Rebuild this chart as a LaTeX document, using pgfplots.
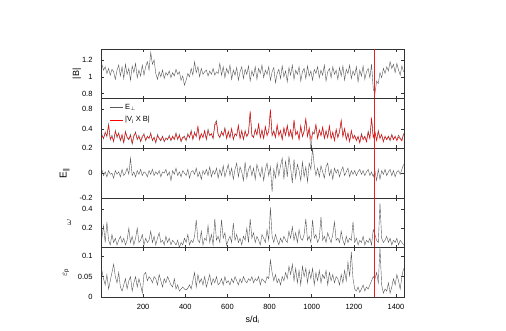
\documentclass[border=0pt]{standalone}
\usepackage{fontspec}
\setmainfont{Liberation Sans}
\usepackage{pgfplots}
\usepackage{pgfplotstable}
\pgfplotsset{compat=1.18}

% x = s/d_i; B = |B|; Eperp, VxB; Epar; w = omega; eps = epsilon_p
\pgfplotstableread{
x B Eperp VxB Epar w eps
4 1.15 0.33 0.31 0.03 0.14 0.065
12 1.08 0.28 0.29 -0.02 0.22 0.045
20 1.12 0.36 0.34 0.01 0.12 0.030
28 1.04 0.30 0.32 -0.03 0.25 0.055
36 1.10 0.48 0.45 0.02 0.13 0.020
44 1.02 0.27 0.28 -0.01 0.11 0.040
52 1.09 0.32 0.30 0.00 0.16 0.060
60 1.06 0.25 0.26 -0.04 0.12 0.080
68 0.97 0.38 0.36 0.02 0.14 0.050
76 1.08 0.29 0.31 -0.01 0.11 0.035
84 1.14 0.35 0.33 0.01 0.13 0.060
92 1.01 0.26 0.27 -0.03 0.15 0.025
100 1.12 0.31 0.33 0.03 0.12 0.015
108 0.98 0.24 0.25 -0.02 0.14 0.030
116 1.15 0.37 0.35 0.00 0.11 0.045
124 1.03 0.29 0.30 0.04 0.13 0.020
132 1.10 0.27 0.28 -0.01 0.20 0.040
140 0.96 0.33 0.31 0.12 0.12 0.050
148 1.13 0.23 0.24 -0.02 0.15 0.015
156 1.05 0.30 0.32 0.01 0.11 0.035
164 1.16 0.36 0.34 -0.03 0.14 0.050
172 0.99 0.27 0.28 0.02 0.20 0.025
180 1.08 0.32 0.30 -0.01 0.12 0.045
188 1.01 0.25 0.26 0.03 0.13 0.030
196 1.14 0.29 0.31 -0.02 0.16 0.010
204 1.02 0.34 0.32 0.01 0.11 0.055
212 1.12 0.26 0.27 0.00 0.14 0.060
220 1.18 0.31 0.30 -0.03 0.12 0.040
228 1.08 0.28 0.29 0.02 0.13 0.050
236 1.29 0.35 0.33 -0.01 0.18 0.045
244 1.15 0.26 0.27 0.03 0.12 0.035
252 1.20 0.30 0.29 -0.02 0.15 0.050
260 1.04 0.24 0.25 0.01 0.11 0.045
268 0.97 0.33 0.31 -0.01 0.14 0.030
276 1.06 0.28 0.29 0.02 0.17 0.055
284 1.00 0.26 0.27 -0.03 0.12 0.040
292 1.08 0.31 0.30 0.01 0.13 0.025
300 0.98 0.25 0.26 0.00 0.11 0.045
308 1.05 0.29 0.28 0.03 0.15 0.035
316 1.02 0.27 0.28 -0.02 0.12 0.050
324 1.07 0.32 0.30 0.01 0.14 0.040
332 0.99 0.26 0.27 -0.06 0.11 0.030
340 1.05 0.30 0.31 0.02 0.13 0.025
348 1.01 0.28 0.27 -0.01 0.12 0.045
356 1.09 0.35 0.33 0.04 0.11 0.020
364 1.03 0.27 0.28 -0.02 0.13 0.030
372 1.06 0.33 0.31 0.01 0.10 0.015
380 0.96 0.25 0.26 -0.03 0.12 0.020
388 1.01 0.29 0.30 0.02 0.11 0.025
396 0.90 0.31 0.29 0.00 0.14 0.020
404 0.96 0.26 0.27 -0.02 0.12 0.018
412 1.04 0.34 0.32 0.03 0.16 0.022
420 1.00 0.29 0.30 -0.04 0.11 0.030
428 1.10 0.38 0.36 0.01 0.13 0.020
436 1.02 0.27 0.28 0.02 0.12 0.040
444 1.18 0.36 0.34 -0.01 0.15 0.060
452 1.05 0.30 0.31 0.04 0.27 0.025
460 1.12 0.42 0.44 -0.03 0.13 0.055
468 1.00 0.28 0.27 0.01 0.12 0.035
476 1.10 0.33 0.34 -0.05 0.18 0.045
484 1.03 0.30 0.29 0.02 0.11 0.030
492 1.06 0.36 0.38 -0.01 0.14 0.050
500 1.08 0.27 0.28 0.03 0.13 0.025
508 1.01 0.40 0.37 -0.02 0.22 0.040
516 1.07 0.31 0.32 0.05 0.12 0.055
524 1.03 0.34 0.33 -0.03 0.16 0.030
532 1.10 0.28 0.29 0.02 0.11 0.045
540 1.02 0.48 0.45 -0.01 0.28 0.035
548 1.06 0.54 0.50 0.04 0.13 0.050
556 1.04 0.33 0.32 -0.04 0.15 0.030
564 1.16 0.29 0.30 0.03 0.12 0.035
572 1.02 0.37 0.35 -0.02 0.27 0.045
580 1.12 0.31 0.32 0.06 0.14 0.030
588 0.99 0.42 0.40 -0.03 0.17 0.050
596 1.10 0.28 0.29 0.02 0.11 0.035
604 1.04 0.35 0.37 0.07 0.13 0.040
612 1.14 0.30 0.29 -0.02 0.15 0.030
620 0.97 0.39 0.41 0.04 0.12 0.045
628 1.08 0.27 0.28 -0.05 0.24 0.035
636 1.02 0.34 0.33 0.03 0.13 0.050
644 1.11 0.31 0.32 0.08 0.16 0.040
652 0.96 0.44 0.46 -0.03 0.12 0.030
660 1.06 0.29 0.28 0.05 0.14 0.045
668 1.12 0.36 0.38 0.01 0.11 0.035
676 0.98 0.27 0.28 -0.06 0.15 0.050
684 1.09 0.38 0.36 0.09 0.13 0.040
692 1.03 0.30 0.31 -0.04 0.20 0.035
700 1.13 0.34 0.35 0.03 0.12 0.045
708 0.95 0.72 0.76 0.06 0.28 0.040
716 1.07 0.33 0.31 -0.02 0.14 0.050
724 1.01 0.29 0.30 0.04 0.17 0.035
732 1.12 0.40 0.38 -0.05 0.12 0.045
740 0.97 0.32 0.33 0.07 0.15 0.040
748 1.10 0.46 0.48 0.02 0.13 0.050
756 1.04 0.30 0.29 -0.03 0.11 0.030
764 1.14 0.37 0.39 0.05 0.16 0.045
772 0.99 0.28 0.29 -0.06 0.14 0.040
780 1.08 0.42 0.44 0.03 0.12 0.035
788 1.03 0.33 0.31 0.08 0.19 0.050
796 1.12 0.36 0.37 -0.02 0.13 0.045
804 0.96 0.78 0.80 0.05 0.42 0.090
812 1.06 0.31 0.32 -0.15 0.15 0.060
820 1.11 0.38 0.36 0.03 0.12 0.040
828 0.93 0.29 0.30 -0.04 0.16 0.055
836 1.04 0.44 0.47 0.08 0.13 0.035
844 1.09 0.33 0.31 -0.02 0.11 0.045
852 0.98 0.36 0.38 0.06 0.14 0.030
860 1.13 0.28 0.27 0.12 0.12 0.050
868 1.00 0.40 0.42 -0.05 0.15 0.040
876 1.07 0.31 0.32 0.10 0.13 0.060
884 0.94 0.46 0.44 -0.03 0.12 0.045
892 1.11 0.30 0.31 0.13 0.18 0.075
900 1.02 0.37 0.39 0.04 0.14 0.055
908 1.14 0.29 0.28 -0.08 0.21 0.080
916 0.97 0.52 0.55 0.11 0.13 0.040
924 1.08 0.33 0.32 -0.04 0.17 0.070
932 1.03 0.35 0.37 0.07 0.12 0.035
940 1.12 0.28 0.27 0.02 0.19 0.065
948 0.95 0.43 0.45 -0.06 0.14 0.030
956 1.06 0.30 0.31 0.09 0.13 0.075
964 1.10 0.38 0.36 -0.03 0.16 0.050
972 0.98 0.55 0.58 0.05 0.28 0.070
980 1.13 0.31 0.30 -0.07 0.13 0.035
988 1.01 0.40 0.42 0.08 0.15 0.065
996 1.07 0.18 0.27 0.03 0.12 0.045
1004 0.96 0.36 0.34 0.20 0.27 0.070
1012 1.09 0.33 0.35 0.06 0.14 0.030
1020 1.04 0.45 0.47 -0.02 0.16 0.060
1028 1.12 0.29 0.28 0.04 0.12 0.040
1036 0.99 0.37 0.39 -0.03 0.14 0.065
1044 1.08 0.32 0.31 0.06 0.30 0.035
1052 1.02 0.41 0.43 0.01 0.13 0.055
1060 1.14 0.28 0.29 -0.04 0.15 0.045
1068 0.95 0.36 0.38 0.05 0.12 0.065
1076 1.06 0.30 0.29 0.08 0.17 0.030
1084 1.10 0.43 0.45 -0.02 0.14 0.060
1092 0.99 0.29 0.28 0.03 0.12 0.040
1100 1.12 0.34 0.36 -0.05 0.16 0.055
1108 1.03 0.27 0.26 0.04 0.25 0.035
1116 1.08 0.38 0.40 0.00 0.13 0.050
1124 0.97 0.30 0.29 0.03 0.14 0.045
1132 1.11 0.35 0.37 -0.03 0.12 0.030
1140 1.01 0.52 0.55 0.02 0.18 0.055
1148 1.13 0.31 0.30 0.05 0.13 0.035
1156 0.96 0.39 0.41 -0.02 0.11 0.065
1164 1.09 0.28 0.27 0.01 0.15 0.040
1172 1.04 0.33 0.35 0.04 0.12 0.085
1180 1.14 0.26 0.25 -0.03 0.14 0.050
1188 0.98 0.36 0.38 0.02 0.13 0.110
1196 1.07 0.29 0.28 -0.01 0.25 0.045
1204 1.02 0.32 0.31 0.02 0.12 0.020
1212 1.12 0.27 0.26 -0.02 0.14 0.015
1220 0.94 0.30 0.31 0.01 0.11 0.025
1228 1.08 0.25 0.24 0.03 0.13 0.012
1236 1.01 0.34 0.32 -0.01 0.12 0.020
1244 1.13 0.28 0.27 0.02 0.15 0.030
1252 0.97 0.31 0.30 -0.02 0.11 0.015
1260 1.06 0.26 0.25 0.01 0.13 0.025
1268 1.10 0.37 0.35 0.03 0.12 0.020
1276 0.99 0.29 0.28 -0.02 0.14 0.030
1284 1.15 0.57 0.60 0.01 0.11 0.040
1292 0.86 0.30 0.29 -0.03 0.19 0.050
1300 0.80 0.35 0.37 0.02 0.16 0.045
1308 0.95 0.27 0.26 -0.06 0.13 0.060
1316 0.92 0.38 0.36 0.03 0.12 0.035
1324 1.05 0.29 0.28 -0.05 0.49 0.120
1332 0.99 0.32 0.33 0.02 0.14 0.030
1340 1.10 0.26 0.25 -0.01 0.12 0.010
1348 1.04 0.30 0.31 0.03 0.13 0.020
1356 1.12 0.28 0.27 -0.02 0.15 0.015
1364 1.07 0.31 0.30 0.01 0.12 0.035
1372 1.18 0.26 0.27 0.03 0.14 0.010
1380 1.10 0.33 0.32 -0.02 0.11 0.025
1388 1.15 0.28 0.27 0.02 0.13 0.045
1396 1.05 0.30 0.31 -0.03 0.12 0.030
1404 1.16 0.27 0.26 0.01 0.14 0.055
1412 1.08 0.32 0.30 0.02 0.11 0.040
1420 1.02 0.29 0.28 -0.01 0.13 0.020
1428 1.13 0.27 0.26 0.03 0.12 0.050
1436 1.06 0.34 0.33 0.07 0.11 0.070
}\data

\definecolor{cutred}{RGB}{235,30,30}

\pgfplotsset{
  panel/.style={
    scale only axis, width=303pt, height=49.6pt,
    anchor=south west,
    xmin=0, xmax=1438,
    xtick={200,400,...,1400}, xticklabels={},
    tick align=inside, xtick pos=both, ytick pos=both,
    major tick length=3pt,
    minor y tick num=0,
    axis line style={black!80, line width=0.5pt},
    every tick/.style={black!80, line width=0.5pt},
    ticklabel style={font=\fontsize{7.5}{9}\selectfont},
    yticklabel shift=5pt, xticklabel shift=3pt,
    yticklabel style={/pgf/number format/fixed},
    label style={font=\fontsize{9}{10}\selectfont},
    /pgf/number format/assume math mode=true,
  },
  ylab/.style={ylabel style={at={(axis description cs:#1,0.5)}, anchor=center}},
  sig/.style={black!65, line width=0.4pt},
  cut/.style={draw=cutred, color=cutred, line width=1pt, forget plot},
}

\begin{document}
\begin{tikzpicture}
\useasboundingbox (0,0) rectangle (506pt,331pt);

% |B|
\begin{axis}[panel, at={(101pt,232.3pt)}, ymin=0.74, ymax=1.33,
  ytick={0.8,1,1.2}, ylabel={|B|}, ylab=-0.08]
  \addplot[sig] table[x=x, y=B] {\data};
  \addplot[cut] coordinates {(1300,0.74) (1300,1.33)};
\end{axis}

% E_perp and |V_i x B|
\begin{axis}[panel, at={(101pt,182.7pt)}, ymode=log, ymin=0.2, ymax=1.17,
  ytick={0.2,0.4,0.8}, yticklabels={0.2,0.4,0.8},
  legend style={at={(0.025,0.96)}, anchor=north west, draw=none, fill=none,
    font=\fontsize{7.5}{8}\selectfont, row sep=2pt, inner sep=1pt},
  legend cell align=left,
  legend image code/.code={\draw[#1] (0pt,0pt) -- (13pt,0pt);}]
  \addplot[sig] table[x=x, y=Eperp] {\data};
  \addlegendentry{E\textsubscript{$\perp$}}
  \addplot[red, line width=0.4pt] table[x=x, y=VxB] {\data};
  \addlegendentry{|V\textsubscript{i} X B|}
  \addplot[cut] coordinates {(1300,0.2) (1300,1.17)};
\end{axis}

% E_par
\begin{axis}[panel, at={(101pt,133.1pt)}, ymin=-0.2, ymax=0.2,
  ytick={-0.2,0}, ylabel={E\textsubscript{||}}, ylab=-0.12,
  ylabel style={font=\fontsize{10}{11}\selectfont}]
  \addplot[sig] table[x=x, y=Epar] {\data};
  \addplot[cut] coordinates {(1300,-0.2) (1300,0.2)};
\end{axis}

% omega
\begin{axis}[panel, at={(101pt,83.4pt)}, ymode=log, ymin=0.1, ymax=0.59,
  ytick={0.2,0.4}, yticklabels={0.2,0.4}, ylabel={$\omega$}, ylab=-0.105]
  \addplot[sig] table[x=x, y=w] {\data};
  \addplot[cut] coordinates {(1300,0.1) (1300,0.59)};
\end{axis}

% epsilon_p
\begin{axis}[panel, at={(101pt,33.7pt)}, ymin=0, ymax=0.12,
  ytick={0,0.05,0.1}, xticklabels={200,400,600,800,1000,1200,1400},
  xlabel={s/d\textsubscript{i}}, ylabel={$\varepsilon$\textsubscript{p}}, ylab=-0.115]
  \addplot[sig] table[x=x, y=eps] {\data};
  \addplot[cut] coordinates {(1300,0) (1300,0.12)};
\end{axis}
\end{tikzpicture}
\end{document}
